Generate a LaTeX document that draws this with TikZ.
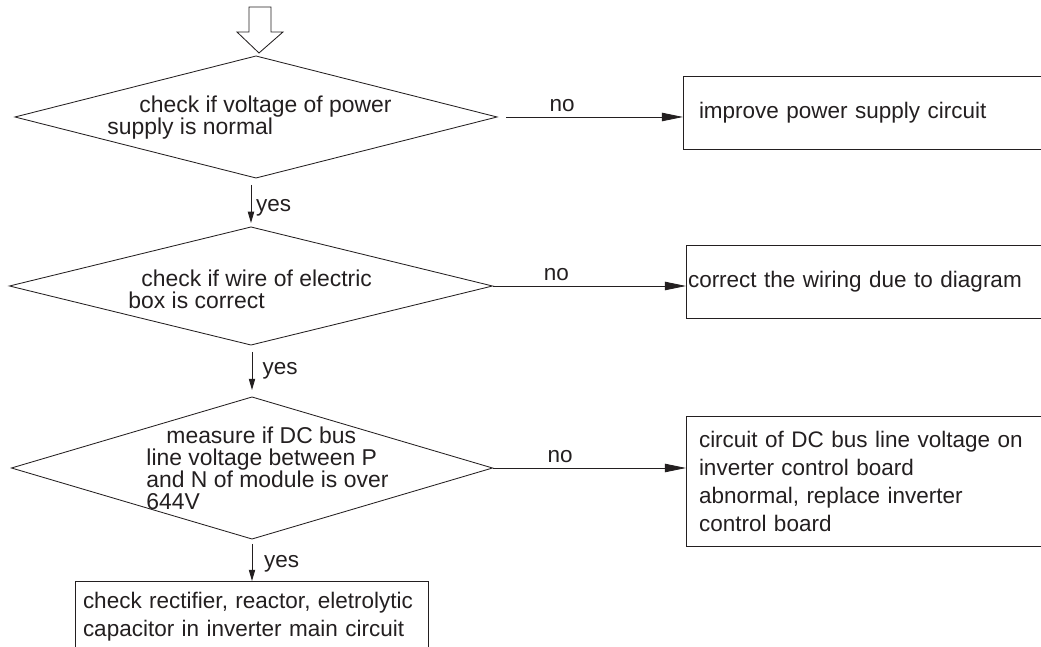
\documentclass[tikz,border=0pt]{standalone}
\usepackage{fontspec}
\setmainfont{Liberation Sans}
\usepackage{tikz}
\usetikzlibrary{shapes.geometric, arrows.meta, positioning, calc}
\definecolor{inkblack}{RGB}{35, 31, 32}

\begin{document}
\begin{tikzpicture}[
    color=inkblack, line width=0.6pt,
    decision/.style={diamond, draw, inner sep=0pt, outer sep=0pt},
    qtext/.style={inner sep=0pt, align=left, anchor=west, font=\fontsize{16.3}{15.6}\selectfont},
    actbox/.style={rectangle, draw, anchor=north west, align=left, outer sep=0pt, font=\fontsize{16}{19.9}\selectfont},
    noflow/.style={-{Triangle[length=15pt, width=6pt]}},
    yesflow/.style={-{Triangle[length=8pt, width=4.5pt]}},
    tag/.style={font=\fontsize{16}{19}\selectfont}
  ]
  \useasboundingbox (0,0) rectangle (26.025,-16.175);
  \clip (0,0) rectangle (26.025,-16.175);

  % hollow entry arrow
  \draw (6.225,-0.175) -- (6.775,-0.175) -- (6.775,-0.8) -- (7.075,-0.8)
    -- (6.475,-1.325) -- (5.925,-0.8) -- (6.225,-0.8) -- cycle;

  % checks
  \node[decision, minimum width=12.05cm, minimum height=3.05cm] (chkpower) at (6.4,-2.925) {};
  \node[qtext] (chkpowertxt) at (2.675,-2.95) {\hspace*{0.8cm}check if voltage of power\\supply is normal};

  \node[decision, minimum width=12.075cm, minimum height=2.95cm] (chkwire) at (6.275,-7.15) {};
  \node[qtext] (chkwiretxt) at (3.2,-7.225) {\hspace*{0.325cm}check if wire of electric\\box is correct};

  \node[decision, minimum width=12.025cm, minimum height=3.55cm] (chkbus) at (6.3,-11.7) {};
  \node[qtext] (chkbustxt) at (3.65,-11.7) {\hspace*{0.5cm}measure if DC bus\\line voltage between P\\and N of module is over\\644V};

  % actions
  \node[actbox, minimum width=9.675cm, minimum height=1.825cm, inner xsep=0.4cm, text width=8.875cm] (fixsupply) at (17.075,-1.9) {improve power supply circuit};
  \node[actbox, minimum width=9.6cm, minimum height=1.825cm, inner xsep=0.05cm, text width=9.5cm] (fixwiring) at (17.15,-6.125) {correct the wiring due to diagram};
  \node[actbox, minimum width=9.6cm, minimum height=3.25cm, inner xsep=0.325cm, text width=8.95cm] (fixboard) at (17.15,-10.4) {circuit of DC bus line voltage on\\inverter control board\\abnormal, replace inverter\\control board};
  \node[actbox, inner xsep=0.2cm, inner ysep=0.28cm, text width=8.425cm, text depth=2.5cm] (rectify) at (1.875,-14.525) {check rectifier, reactor, eletrolytic\\capacitor in inverter main circuit};

  % no branches
  \draw[noflow, shorten <=0.225cm] (chkpower.east) -- (chkpower.east -| fixsupply.west)
    node[tag, pos=0.35, above] (no1) {no};
  \draw[noflow] (chkwire.east) -- (chkwire.east -| fixwiring.west)
    node[tag, pos=0.33, above] (no2) {no};
  \draw[noflow] (chkbus.east) -- (chkbus.east -| fixboard.west)
    node[tag, pos=0.35, above] (no3) {no};

  % yes branches
  \draw[yesflow, shorten <=0.175cm, shorten >=0.1cm] (chkpower.south -| chkwire.north) -- (chkwire.north)
    node[tag, midway, right, yshift=-4pt] (yes1) {yes};
  \draw[yesflow, shorten <=0.175cm, shorten >=0.175cm] (chkwire.south -| chkbus.north) -- (chkbus.north)
    node[tag, midway, right, xshift=4pt] (yes2) {yes};
  \draw[yesflow, shorten <=0.125cm] (chkbus.south) -- (chkbus.south |- rectify.north)
    node[tag, midway, right, xshift=5pt, yshift=-3pt] (yes3) {yes};
\end{tikzpicture}
\end{document}
